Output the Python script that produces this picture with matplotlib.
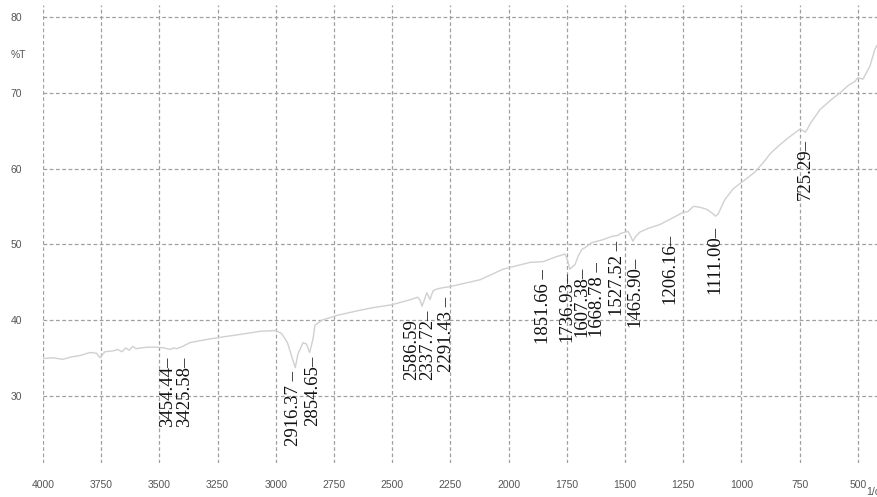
import matplotlib.pyplot as plt

# IR spectrum, wavenumber (1/cm) vs transmittance (%T)
wavenumber = [4000, 3960, 3914, 3880, 3840, 3798, 3770, 3755, 3734, 3700,
              3680, 3660, 3645, 3630, 3615, 3600, 3580, 3550, 3510, 3480,
              3454.44, 3440, 3425.58, 3400, 3369, 3300, 3240, 3150, 3068, 3000,
              2975, 2950, 2930, 2916.37, 2905, 2883, 2868, 2854.65, 2840, 2832,
              2800, 2767, 2737, 2650, 2586.59, 2502, 2430, 2390, 2380, 2372,
              2360, 2351, 2337.72, 2325, 2316, 2291.43, 2252, 2123, 2024, 1908,
              1851.66, 1800, 1758, 1748, 1736.93, 1730, 1715, 1700, 1686, 1668.78,
              1643, 1607.38, 1594, 1560, 1527.52, 1521, 1500, 1487, 1475, 1465.90,
              1455, 1436, 1400, 1350, 1294, 1251, 1230, 1206.16, 1180, 1148,
              1125, 1111.00, 1100, 1071, 1036, 998, 943, 900, 878, 840,
              805, 749, 735, 725.29, 715, 705, 662, 610, 576, 540,
              512, 500, 478, 448, 427, 417]
transmittance = [34.9, 35.0, 34.8, 35.1, 35.3, 35.7, 35.6, 35.0, 35.8, 35.9,
                 36.1, 35.8, 36.3, 36.0, 36.5, 36.2, 36.3, 36.4, 36.4, 36.3,
                 36.1, 36.3, 36.2, 36.5, 37.0, 37.4, 37.7, 38.1, 38.5, 38.6,
                 38.2, 37.0, 35.0, 33.7, 35.5, 37.0, 36.8, 35.7, 37.5, 39.3,
                 40.0, 40.3, 40.6, 41.2, 41.6, 42.0, 42.6, 43.0, 42.6, 41.8,
                 42.8, 43.6, 42.7, 43.8, 44.0, 44.2, 44.4, 45.3, 46.7, 47.6,
                 47.7, 48.3, 48.7, 48.0, 46.7, 46.9, 47.3, 48.5, 49.3, 49.6,
                 50.2, 50.5, 50.6, 51.0, 51.2, 51.4, 51.6, 51.7, 51.0, 50.4,
                 51.0, 51.6, 52.1, 52.6, 53.5, 54.2, 54.3, 55.0, 54.9, 54.6,
                 54.1, 53.7, 54.0, 55.9, 57.3, 58.2, 59.5, 61.0, 61.9, 63.0,
                 63.9, 65.2, 65.0, 64.8, 65.3, 65.9, 67.8, 69.2, 70.0, 71.0,
                 71.5, 72.0, 71.8, 73.5, 75.7, 76.3]

# peak picks
peaks = [3454.44, 3425.58, 2916.37, 2854.65, 2586.59, 2337.72, 2291.43,
         1851.66, 1736.93, 1607.38, 1668.78, 1527.52, 1465.90, 1206.16,
         1111.00, 725.29]
# where each pick label sits (wavenumber of text centre, %T of text start)
label_x = [3463, 3390, 2926, 2840, 2415, 2346, 2265,
           1852, 1749, 1685, 1620, 1534, 1457, 1307,
           1114, 727]
label_y = [25.8, 25.8, 23.3, 26.0, 32.1, 32.1, 33.1,
           36.8, 37.1, 37.8, 37.8, 40.5, 39.1, 42.1,
           43.4, 55.9]
label_tail = ['–', '–', ' –', '–', '', '–', ' –',
              ' –', '–', '–', ' –', ' –', '–', '–',
              '–', '–']

x_ticks = [4000, 3750, 3500, 3250, 3000, 2750, 2500, 2250, 2000,
           1750, 1500, 1250, 1000, 750, 500]
y_ticks = [30, 40, 50, 60, 70, 80]

fig = plt.figure(figsize=(8.77, 4.97), dpi=100)
ax = fig.add_axes([43 / 877, 34 / 497, 834 / 877, 458 / 497])

ax.plot(wavenumber, transmittance, color='#d0d0d0', lw=1.0)

for v, lx, ly, tail in zip(peaks, label_x, label_y, label_tail):
    ax.text(lx, ly, f'{v:.2f}{tail}', rotation=90, ha='center', va='bottom',
            family='Liberation Serif', fontsize=13.5, color='#111111')

ax.set_xlim(4000, 417.5)
ax.set_ylim(21.1, 81.6)
ax.set_xticks(x_ticks)
ax.set_yticks(y_ticks)
ax.tick_params(length=0, labelsize=7.5, labelcolor='#555555')
ax.tick_params(axis='x', pad=12)
ax.tick_params(axis='y', pad=15)
for lab in ax.get_xticklabels() + ax.get_yticklabels():
    lab.set_family('Liberation Sans')
ax.grid(True, color='#a0a0a0', linestyle=(0, (3, 2)), linewidth=0.9)
for s in ax.spines.values():
    s.set_visible(False)

fig.text(18 / 877, 1 - 55 / 497, '%T', ha='center', va='center',
         fontsize=7.5, color='#555555', family='Liberation Sans')
fig.text(866 / 877, 1 - 492 / 497, '1/cm', ha='left', va='center',
         fontsize=7.5, color='#555555', family='Liberation Sans')

plt.savefig('out.png')
